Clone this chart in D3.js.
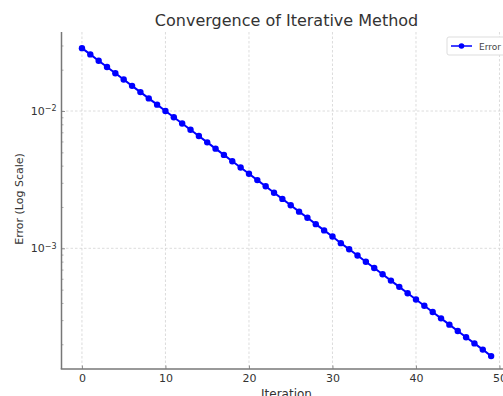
<!DOCTYPE html>
<html>
<head>
<meta charset="utf-8">
<script src="https://cdn.jsdelivr.net/npm/d3@7"></script>
<style>
  body { margin: 0; background: #fff; }
  text { font-family: "DejaVu Sans", sans-serif; }
</style>
</head>
<body>
<div id="chart"></div>
<script>
// error per iteration
var iterations = d3.range(0, 50);
var errors = [
  0.0287, 0.02583, 0.02325, 0.02092, 0.01883, 0.01695, 0.01525, 0.01373, 0.01235, 0.01112,
  0.01001, 0.00901, 0.00811, 0.00730, 0.00657, 0.00591, 0.00532, 0.00479, 0.00431, 0.00388,
  0.00349, 0.00314, 0.00283, 0.00254, 0.00229, 0.00206, 0.00185, 0.00167, 0.00150, 0.00135,
  0.00122, 0.00109, 0.000985, 0.000887, 0.000798, 0.000718, 0.000647, 0.000582, 0.000524, 0.000471,
  0.000424, 0.000382, 0.000344, 0.000309, 0.000278, 0.000250, 0.000225, 0.000203, 0.000183, 0.000164
];
var xTicks = [0, 10, 20, 30, 40, 50];
var yTicks = [1e-2, 1e-3];
var yTickLabels = ["\u22122", "\u22123"];
var yMinorTicks = [2e-4, 3e-4, 4e-4, 5e-4, 6e-4, 7e-4, 8e-4, 9e-4,
                   2e-3, 3e-3, 4e-3, 5e-3, 6e-3, 7e-3, 8e-3, 9e-3, 2e-2, 3e-2];

var width = 503, height = 396;
var plotLeft = 61.5, plotRight = 511.6, plotTop = 32, plotBottom = 369;

var svg = d3.select("#chart").append("svg")
    .attr("width", width)
    .attr("height", height);

var x = d3.scaleLinear().domain([-2.45, 51.45]).range([plotLeft, plotRight]);
var y = d3.scaleLog().domain([10 ** -3.879, 10 ** -1.4246]).range([plotBottom, plotTop]);

//grid
svg.append("g").selectAll("line").data(xTicks).enter().append("line")
    .attr("x1", d => x(d)).attr("x2", d => x(d))
    .attr("y1", plotTop).attr("y2", plotBottom)
    .attr("stroke", "#d3d3d3").attr("stroke-width", 0.8)
    .attr("stroke-dasharray", "2.5,2");
svg.append("g").selectAll("line").data(yTicks).enter().append("line")
    .attr("x1", plotLeft).attr("x2", plotRight)
    .attr("y1", d => y(d)).attr("y2", d => y(d))
    .attr("stroke", "#d3d3d3").attr("stroke-width", 0.8)
    .attr("stroke-dasharray", "2.5,2");

//axes, ticks point inward
var xAxis = svg.append("g")
    .attr("transform", "translate(0," + plotBottom + ")")
    .call(d3.axisBottom(x).tickValues(xTicks).tickSize(-3.5).tickPadding(5));
var yAxis = svg.append("g")
    .attr("transform", "translate(" + plotLeft + ",0)")
    .call(d3.axisLeft(y).tickValues(yTicks).tickSize(-3.5).tickFormat(""));
svg.append("g")
    .attr("transform", "translate(" + plotLeft + ",0)")
    .call(d3.axisLeft(y).tickValues(yMinorTicks).tickSize(-2).tickFormat(""))
    .call(g => g.select(".domain").remove())
    .selectAll("line").attr("stroke", "#777").attr("stroke-width", 0.6);

[xAxis, yAxis].forEach(function (g) {
    g.select(".domain").attr("stroke", "#777").attr("stroke-width", 1.5);
    g.selectAll(".tick line").attr("stroke", "#777").attr("stroke-width", 0.8);
    g.selectAll(".tick text").attr("fill", "#333").attr("font-size", 11)
        .attr("font-family", "DejaVu Sans, sans-serif");
});
xAxis.select(".domain").attr("d", "M" + (plotLeft - 0.75) + ",0H" + width);
yAxis.select(".domain").attr("d", "M0," + plotTop + "V" + plotBottom);

// y labels with superscript exponent
yAxis.selectAll(".tick").each(function (d, i) {
    var t = d3.select(this).append("text")
        .attr("x", -5).attr("dy", "0.32em")
        .attr("text-anchor", "end")
        .attr("fill", "#333").attr("font-size", 11);
    t.append("tspan").text("10");
    t.append("tspan").attr("dy", "-0.45em").attr("font-size", 8).text(yTickLabels[i]);
});

//line and markers
var line = d3.line().x((d, i) => x(iterations[i])).y(d => y(d));
svg.append("path")
    .datum(errors)
    .attr("d", line)
    .attr("fill", "none")
    .attr("stroke", "#0000ff")
    .attr("stroke-width", 2);
svg.append("g").selectAll("circle").data(errors).enter().append("circle")
    .attr("cx", (d, i) => x(iterations[i]))
    .attr("cy", d => y(d))
    .attr("r", 3.2)
    .attr("fill", "#0000ff");

//title and labels
svg.append("text")
    .attr("x", (plotLeft + plotRight) / 2).attr("y", 26)
    .attr("text-anchor", "middle")
    .attr("font-size", 16).attr("fill", "#333")
    .text("Convergence of Iterative Method");
svg.append("text")
    .attr("x", 286.5).attr("y", 398)
    .attr("text-anchor", "middle")
    .attr("font-size", 12).attr("fill", "#333")
    .text("Iteration");
svg.append("text")
    .attr("transform", "translate(23,199) rotate(-90)")
    .attr("text-anchor", "middle")
    .attr("font-size", 11).attr("fill", "#333")
    .text("Error (Log Scale)");

//legend
var legend = svg.append("g").attr("transform", "translate(447,37)");
legend.append("rect")
    .attr("width", 70).attr("height", 18).attr("rx", 2)
    .attr("fill", "#fff").attr("stroke", "#ddd");
legend.append("line")
    .attr("x1", 4).attr("x2", 25).attr("y1", 9).attr("y2", 9)
    .attr("stroke", "#0000ff").attr("stroke-width", 1.5);
legend.append("circle").attr("cx", 14.5).attr("cy", 9).attr("r", 2.8).attr("fill", "#0000ff");
legend.append("text")
    .attr("x", 32).attr("y", 12.5)
    .attr("font-size", 9).attr("fill", "#444")
    .text("Error");
</script>
</body>
</html>
